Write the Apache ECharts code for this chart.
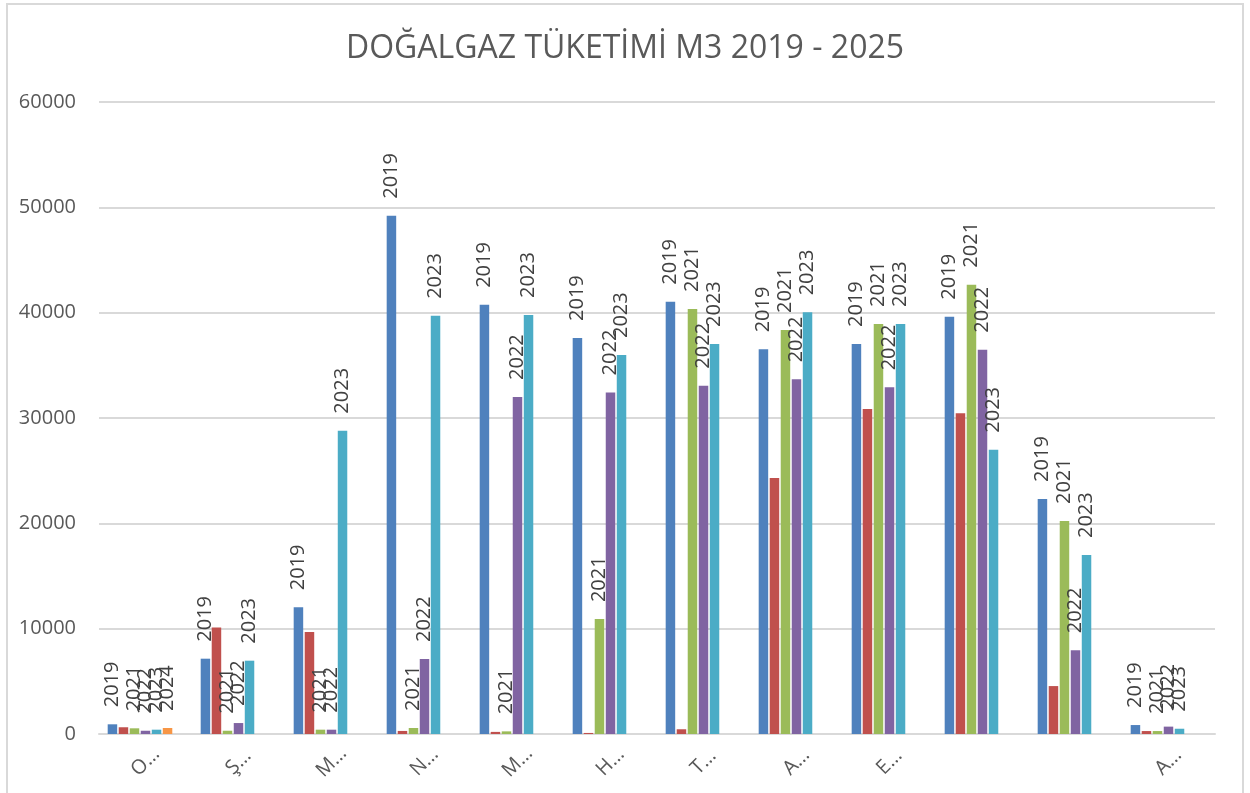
<!DOCTYPE html>
<html>
<head>
<meta charset="utf-8">
<script src="https://cdn.jsdelivr.net/npm/echarts@6/dist/echarts.min.js"></script>
<style>
html,body{margin:0;padding:0;background:#fff;}
#chart{width:1250px;height:793px;}
#frame{position:absolute;left:6px;top:3px;width:1234px;height:800px;border:2px solid #d9d9d9;pointer-events:none;}
</style>
</head>
<body>
<div id="chart"></div>
<div id="frame"></div>
<script>
const titleText = 'DOĞALGAZ TÜKETİMİ M3 2019 - 2025';
const months = ['Ocak','Şubat','Mart','Nisan','Mayıs','Haziran','Temmuz','Ağustos','Eylül','Ekim','Kasım','Aralık'];
const shownLabels = ['O…','Ş…','M…','N…','M…','H…','T…','A…','E…','','','A…'];
const seriesNames = ['2019','2020','2021','2022','2023','2024','2025'];
const s2019 = [920, 7150, 12030, 49200, 40740, 37600, 41040, 36520, 37030, 39620, 22320, 850];
const s2020 = [640, 10100, 9690, 290, 200, 100, 450, 24310, 30850, 30440, 4550, 280];
const s2021 = [540, 310, 410, 570, 250, 10910, 40350, 38350, 38930, 42660, 20220, 280];
const s2022 = [310, 1040, 410, 7120, 32000, 32430, 33070, 33670, 32910, 36490, 7950, 700];
const s2023 = [410, 6960, 28800, 39700, 39790, 35980, 37030, 40030, 38930, 26990, 16990, 500];
const s2024 = [570, null, null, null, null, null, null, null, null, null, null, null];
const s2025 = [null, null, null, null, null, null, null, null, null, null, null, null];
const yTicks = [0, 10000, 20000, 30000, 40000, 50000, 60000];
const colors = ['#4F81BD','#C0504D','#9BBB59','#8064A2','#4BACC6','#F79646','#2C4D75'];
const showLabel = [true, false, true, true, true, true, false];
const allData = [s2019, s2020, s2021, s2022, s2023, s2024, s2025];

const font = '"Open Sans", "Liberation Sans", sans-serif';
const chart = echarts.init(document.getElementById('chart'));
chart.setOption({
  animation: false,
  color: colors,
  title: {
    text: titleText,
    left: 'center',
    top: 28,
    textStyle: {fontFamily: font, fontSize: 32, fontWeight: 'normal', color: '#595959'}
  },
  grid: {left: 99, right: 35, top: 102, bottom: 59},
  xAxis: {
    type: 'category',
    data: months,
    axisLine: {lineStyle: {color: '#d9d9d9', width: 2}},
    axisTick: {show: false},
    axisLabel: {
      rotate: 45, interval: 0, margin: 28,
      align: 'center', verticalAlign: 'middle',
      fontFamily: font, fontSize: 20, color: '#595959',
      formatter: (v, i) => shownLabels[i]
    }
  },
  yAxis: {
    type: 'value',
    min: yTicks[0], max: yTicks[yTicks.length - 1], interval: 10000,
    axisLine: {show: false}, axisTick: {show: false},
    splitLine: {lineStyle: {color: '#d9d9d9', width: 2}},
    axisLabel: {fontFamily: font, fontSize: 20, color: '#595959', margin: 23, formatter: v => String(v)}
  },
  series: seriesNames.map((name, i) => ({
    name: name,
    type: 'bar',
    data: allData[i],
    barWidth: 9.5,
    barGap: '16%',
    itemStyle: {color: colors[i]},
    label: {
      show: showLabel[i],
      position: 'top',
      distance: 17,
      rotate: 90,
      align: 'left',
      verticalAlign: 'middle',
      formatter: '{a}',
      fontFamily: font,
      fontSize: 20,
      color: '#404040'
    }
  }))
});
</script>
</body>
</html>
